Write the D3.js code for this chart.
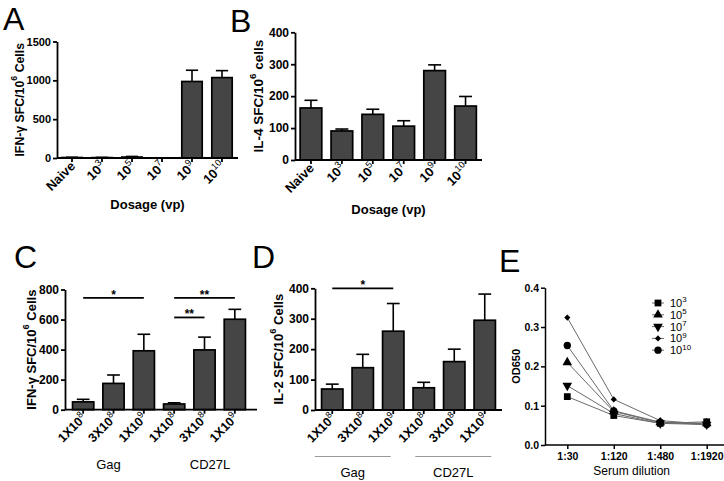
<!DOCTYPE html>
<html><head><meta charset="utf-8">
<script src="https://cdn.jsdelivr.net/npm/d3@7"></script>
<style>
body{margin:0;background:#fff}
svg{display:block}
text{font-family:"Liberation Sans",Arial,Helvetica,sans-serif;fill:#000}
</style>
</head><body>
<svg id="c" width="724" height="481"></svg>
<script>
// ---------------- DATA ----------------
// Panels A/B: dosage categories
const dosageCats = ["Naive", "10^3", "10^5", "10^7", "10^9", "10^10"];
const ifnA      = [6, 5, 12, 1, 985, 1035];
const ifnAErr   = [3, 3, 8, 1, 145, 90];
const il4B      = [163, 91, 143, 106, 280, 169];
const il4BErr   = [24, 6, 16, 17, 18, 30];
// Panels C/D: vaccine doses by group
const doseLabels = ["1X10^8", "3X10^8", "1X10^9", "1X10^8", "3X10^8", "1X10^9"];
const groupNames = ["Gag", "CD27L"];
const ifnC      = [52, 175, 392, 38, 398, 602];
const ifnCErr   = [17, 56, 110, 8, 85, 66];
const il2D      = [69, 139, 259, 73, 159, 295];
const il2DErr   = [16, 44, 91, 18, 41, 86];
const sigC = [ {from:0, to:2, level:744, label:"*"}, {from:3, to:5, level:744, label:"**"}, {from:3, to:4, level:614, label:"**"} ];
const sigD = [ {from:0, to:2, level:400, label:"*"} ];
// Panel E: serum dilution ELISA
const dilutions = ["1:30", "1:120", "1:480", "1:1920"];
const seriesNames = ["10^3", "10^5", "10^7", "10^9", "10^10"];
const od_1e3  = [0.123, 0.075, 0.055, 0.059];
const od_1e5  = [0.210, 0.085, 0.057, 0.055];
const od_1e7  = [0.151, 0.080, 0.055, 0.052];
const od_1e9  = [0.324, 0.116, 0.062, 0.053];
const od_1e10 = [0.253, 0.087, 0.058, 0.052];
// tick values
const ticksA = [0, 500, 1000, 1500];
const ticksB = [0, 100, 200, 300, 400];
const ticksC = [0, 200, 400, 600, 800];
const ticksD = [0, 100, 200, 300, 400];
const ticksE = [0, 0.1, 0.2, 0.3, 0.4];

// ---------------- HELPERS ----------------
const svg = d3.select("#c");

function rich(textSel, str, base, supScale, supWeight) {
  const parts = str.split(/\^(\d+)/);
  const shift = base * 0.42;
  let raised = false;
  parts.forEach((p, i) => {
    if (!p) return;
    const t = textSel.append("tspan").text(p);
    if (i % 2 === 1) {
      t.attr("dy", -shift).attr("font-size", base * supScale);
      if (supWeight) t.attr("font-weight", supWeight);
      raised = true;
    } else if (raised) {
      t.attr("dy", shift);
      raised = false;
    }
  });
}

function letter(ch, x, y) {
  svg.append("text").attr("x", x).attr("y", y).attr("font-size", 32).text(ch);
}

function barPanel(o) {
  const g = svg.append("g");
  const n = o.values.length;
  const x = d3.scaleBand().domain(d3.range(n)).range(o.xRange)
    .paddingInner(o.pad).paddingOuter(o.pad / 2);
  const y = d3.scaleLinear().domain([0, o.yMax]).range(o.yRange);
  const cx = i => x(i) + x.bandwidth() / 2;

  // error bars (upper only)
  const capW = x.bandwidth() * 0.6;
  const eb = g.append("g").attr("stroke", "#000").attr("stroke-width", 1.6);
  eb.selectAll("line.v").data(o.values).join("line")
    .attr("x1", (d, i) => cx(i)).attr("x2", (d, i) => cx(i))
    .attr("y1", d => y(d)).attr("y2", (d, i) => y(d + o.errors[i]));
  eb.selectAll("line.c").data(o.values).join("line")
    .attr("x1", (d, i) => cx(i) - capW / 2).attr("x2", (d, i) => cx(i) + capW / 2)
    .attr("y1", (d, i) => y(d + o.errors[i])).attr("y2", (d, i) => y(d + o.errors[i]));

  // bars
  g.selectAll("rect.bar").data(o.values).join("rect")
    .attr("x", (d, i) => x(i)).attr("y", d => y(d))
    .attr("width", x.bandwidth()).attr("height", d => Math.max(0, y(0) - y(d)))
    .attr("fill", "#454545").attr("stroke", "#000").attr("stroke-width", 1.7);

  // y axis
  const ya = g.append("g").attr("transform", `translate(${o.axisX},0)`)
    .call(d3.axisLeft(y).tickValues(o.yTicks).tickFormat(d3.format("d"))
      .tickSize(4).tickSizeOuter(0).tickPadding(2));
  ya.selectAll("path,line").attr("stroke", "#000").attr("stroke-width", 1.8);
  ya.selectAll("text").attr("font-size", o.tickFont).attr("font-weight", "bold")
    .attr("font-family", "Liberation Sans, Arial, sans-serif");

  // x axis
  const xa = g.append("g").attr("transform", `translate(0,${y(0)})`)
    .call(d3.axisBottom(x).tickSize(4).tickSizeOuter(0).tickFormat(""));
  xa.select(".domain").attr("d", `M${o.axisX},0H${o.axisEnd}`);
  xa.selectAll("path,line").attr("stroke", "#000").attr("stroke-width", 1.8);

  // rotated x labels
  g.selectAll("text.xl").data(o.labels).join("text").attr("class", "xl")
    .attr("transform", (d, i) => `translate(${cx(i) + 4},${y(0) + 9}) rotate(-45)`)
    .attr("text-anchor", "end").attr("font-weight", "bold").attr("font-size", o.labelFont)
    .each(function (d) { rich(d3.select(this), d, o.labelFont, 0.72, "normal"); });

  // y title
  const yt = g.append("text")
    .attr("transform", `translate(${o.yTitleX},${(o.yRange[0] + o.yRange[1]) / 2}) rotate(-90)`)
    .attr("text-anchor", "middle").attr("dominant-baseline", "central")
    .attr("font-weight", "bold").attr("font-size", o.titleFont);
  rich(yt, o.yTitle, o.titleFont, 0.72, "bold");

  // x title
  if (o.xTitle) {
    g.append("text").attr("x", (o.axisX + o.axisEnd) / 2).attr("y", o.xTitleY)
      .attr("text-anchor", "middle").attr("font-weight", "bold").attr("font-size", 13)
      .text(o.xTitle);
  }

  // significance brackets
  (o.sig || []).forEach(s => {
    g.append("line").attr("x1", cx(s.from)).attr("x2", cx(s.to))
      .attr("y1", y(s.level)).attr("y2", y(s.level))
      .attr("stroke", "#000").attr("stroke-width", 1.8);
    g.append("text").attr("x", (cx(s.from) + cx(s.to)) / 2).attr("y", y(s.level) + 1)
      .attr("text-anchor", "middle").attr("font-weight", "bold").attr("font-size", 12)
      .text(s.label);
  });

  // group labels
  if (o.groups) {
    o.groups.forEach((name, k) => {
      const c = (cx(k * 3) + cx(k * 3 + 2)) / 2 + o.groupOffsets[k];
      if (o.groupLines) {
        g.append("line").attr("x1", c - o.groupLineHalf).attr("x2", c + o.groupLineHalf)
          .attr("y1", o.groupLineY).attr("y2", o.groupLineY)
          .attr("stroke", "#999").attr("stroke-width", 1);
      }
      g.append("text").attr("x", c).attr("y", o.groupY).attr("text-anchor", "middle")
        .attr("font-size", 13).text(name);
    });
  }
}

// ---------------- PANELS ----------------
letter("A", 3, 30);
barPanel({ values: ifnA, errors: ifnAErr, labels: dosageCats, yMax: 1500, yTicks: ticksA,
  xRange: [57, 237], pad: 0.32, yRange: [158, 41.5], axisX: 57, axisEnd: 238,
  tickFont: 11, labelFont: 13, titleFont: 12.3, yTitleX: 19.5,
  yTitle: "IFN-γ SFC/10^6 Cells", xTitle: "Dosage (vp)", xTitleY: 209 });

letter("B", 230, 32);
barPanel({ values: il4B, errors: il4BErr, labels: dosageCats, yMax: 400, yTicks: ticksB,
  xRange: [295.5, 481], pad: 0.3, yRange: [160, 32.3], axisX: 295, axisEnd: 482,
  tickFont: 12, labelFont: 13, titleFont: 13.5, yTitleX: 258,
  yTitle: "IL-4 SFC/10^6 cells", xTitle: "Dosage (vp)", xTitleY: 214 });

letter("C", 14, 268);
barPanel({ values: ifnC, errors: ifnCErr, labels: doseLabels, yMax: 800, yTicks: ticksC,
  xRange: [68, 250], pad: 0.3, yRange: [409.7, 289.5], axisX: 65, axisEnd: 257,
  tickFont: 12, labelFont: 12.5, titleFont: 13, yTitleX: 31,
  yTitle: "IFN-γ SFC/10^6 Cells", sig: sigC,
  groups: groupNames, groupOffsets: [-5, 5.5], groupY: 469 });

letter("D", 252, 268);
barPanel({ values: il2D, errors: il2DErr, labels: doseLabels, yMax: 400, yTicks: ticksD,
  xRange: [317, 500], pad: 0.3, yRange: [410, 288.3], axisX: 315, axisEnd: 502,
  tickFont: 12, labelFont: 12.5, titleFont: 13, yTitleX: 278,
  yTitle: "IL-2 SFC/10^6 Cells", sig: sigD,
  groups: groupNames, groupOffsets: [-10, -1], groupY: 477,
  groupLines: true, groupLineY: 456.5, groupLineHalf: 38 });

// Panel E
letter("E", 499, 272);
(function () {
  const g = svg.append("g");
  const x = d3.scalePoint().domain(dilutions).range([567.3, 706.7]);
  const y = d3.scaleLinear().domain([0, 0.4]).range([445, 287.7]);
  const seriesVals = [od_1e3, od_1e5, od_1e7, od_1e9, od_1e10];
  const symbols = [
    { type: d3.symbolSquare, size: 46, rot: 0 },
    { type: d3.symbolTriangle, size: 40, rot: 0 },
    { type: d3.symbolTriangle, size: 40, rot: 180 },
    { type: d3.symbolDiamond2, size: 24, rot: 0 },
    { type: d3.symbolCircle, size: 42, rot: 0 }
  ];
  const line = d3.line().x((d, i) => x(dilutions[i])).y(d => y(d));
  seriesVals.forEach(vals => {
    g.append("path").attr("d", line(vals)).attr("fill", "none")
      .attr("stroke", "#6a6a6a").attr("stroke-width", 1);
  });
  seriesVals.forEach((vals, s) => {
    g.selectAll(null).data(vals).join("path")
      .attr("d", d3.symbol().type(symbols[s].type).size(symbols[s].size))
      .attr("transform", (d, i) => `translate(${x(dilutions[i])},${y(d)}) rotate(${symbols[s].rot})`)
      .attr("fill", "#000");
  });
  const ya = g.append("g").attr("transform", "translate(545,0)")
    .call(d3.axisLeft(y).tickValues(ticksE).tickFormat(d3.format(".1f")).tickSize(4).tickSizeOuter(0).tickPadding(2));
  ya.selectAll("path,line").attr("stroke", "#000").attr("stroke-width", 1.5);
  ya.selectAll("text").attr("font-size", 10.5).attr("font-weight", "bold")
    .attr("font-family", "Liberation Sans, Arial, sans-serif");
  const xa = g.append("g").attr("transform", `translate(0,${y(0)})`)
    .call(d3.axisBottom(x).tickSize(4).tickSizeOuter(0).tickPadding(4));
  xa.select(".domain").attr("d", "M545,0H724");
  xa.selectAll("path,line").attr("stroke", "#000").attr("stroke-width", 1.5);
  xa.selectAll("text").attr("font-size", 10.5).attr("font-weight", "bold")
    .attr("font-family", "Liberation Sans, Arial, sans-serif");
  g.append("text").attr("transform", `translate(516,${(445 + 287.7) / 2}) rotate(-90)`)
    .attr("text-anchor", "middle").attr("dominant-baseline", "central")
    .attr("font-weight", "bold").attr("font-size", 11).text("OD650");
  g.append("text").attr("x", 631.7).attr("y", 475).attr("text-anchor", "middle")
    .attr("font-size", 12).text("Serum dilution");
  // legend
  const lg = g.append("g");
  seriesNames.forEach((name, s) => {
    const ly = 303 + s * 11.8;
    lg.append("line").attr("x1", 652).attr("x2", 664).attr("y1", ly).attr("y2", ly)
      .attr("stroke", "#6a6a6a").attr("stroke-width", 1);
    lg.append("path").attr("d", d3.symbol().type(symbols[s].type).size(symbols[s].size))
      .attr("transform", `translate(658,${ly}) rotate(${symbols[s].rot})`).attr("fill", "#000");
    const t = lg.append("text").attr("x", 670).attr("y", ly + 4).attr("font-size", 11);
    rich(t, name, 11, 0.72, "normal");
  });
})();
</script>
</body></html>
